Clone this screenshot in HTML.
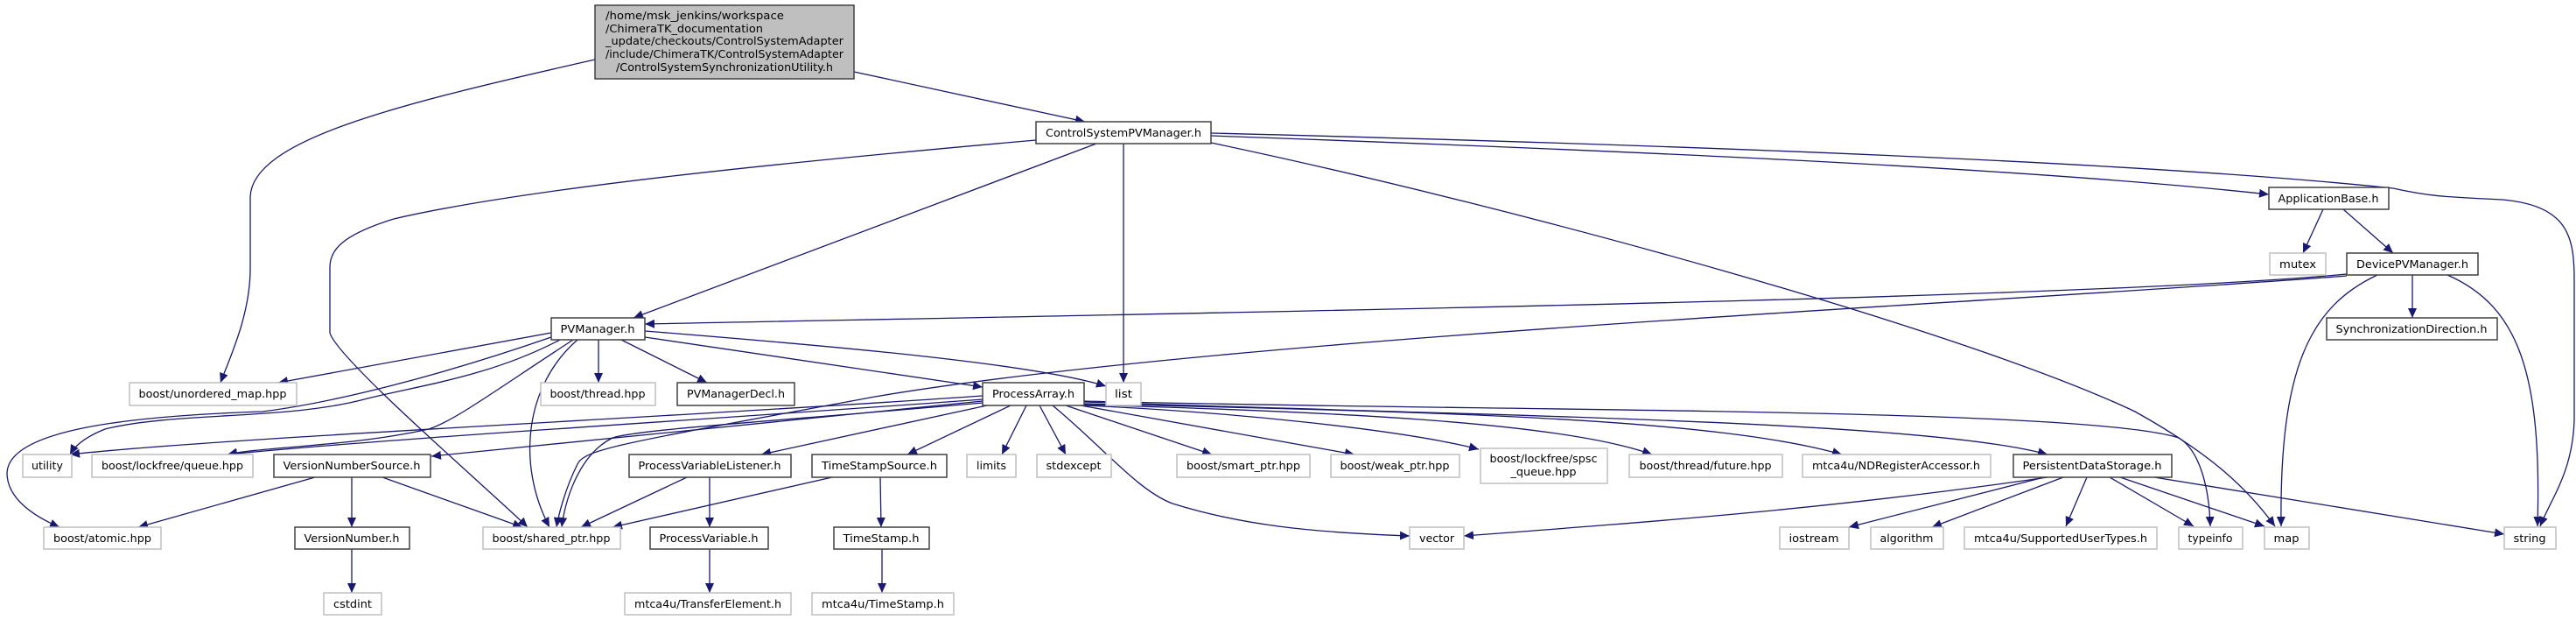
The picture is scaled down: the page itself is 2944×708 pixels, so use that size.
<!DOCTYPE html>
<html><head><meta charset="utf-8"><style>
html,body{margin:0;padding:0;background:#fff;}
svg{display:block;}
text{font-family:"DejaVu Sans","Liberation Sans",sans-serif;font-size:12px;fill:#000;}
.e{fill:none;stroke:#191970;stroke-width:1.3;}
.g{fill:#fff;stroke:#bfbfbf;stroke-width:1.5;}
.b{fill:#fff;stroke:#404040;stroke-width:1.5;}
</style></head><body>
<svg width="2944" height="708" viewBox="0 0 2944 708" xmlns="http://www.w3.org/2000/svg">
<defs>
<marker id="a" markerUnits="userSpaceOnUse" markerWidth="12" markerHeight="10" refX="11" refY="5" orient="auto">
<path d="M0,0 L11,5 L0,10 z" fill="#191970"/></marker>
</defs>
<g marker-end="url(#a)">
<path class="e" d="M680,68 C450,120 288,160 286,225 L286,307 C286,360 262,410 252,437"/>
<path class="e" d="M976,82 L1240,139"/>
<path class="e" d="M1253,164 L724,363"/>
<path class="e" d="M1284,164 L1284,437"/>
<path class="e" d="M1184,160 C900,185 600,215 450,250 C392,268 377,285 377,305 L377,380 C385,410 560,560 603,602"/>
<path class="e" d="M1384,155 C1800,170 2300,190 2593,222"/>
<path class="e" d="M1384,152 C1900,165 2450,185 2735,215 C2780,225 2800,225 2860,228 C2935,235 2942,270 2942,320 L2942,480 C2940,540 2915,570 2903,601"/>
<path class="e" d="M1384,163 C1750,240 2250,380 2440,470 C2530,520 2570,560 2600,601"/>
<path class="e" d="M2655,239 L2632,289"/>
<path class="e" d="M2678,239 L2735,289"/>
<path class="e" d="M2682,313 C2400,340 1500,355 737,370"/>
<path class="e" d="M2682,315 C2300,345 1400,385 1000,453 C720,505 668,512 660,530 C645,560 638,590 636,602"/>
<path class="e" d="M2717,314 C2640,350 2605,420 2607,601"/>
<path class="e" d="M2757,314 L2757,363"/>
<path class="e" d="M2797,314 C2880,350 2905,430 2900,601"/>
<path class="e" d="M630,380 L318,437"/>
<path class="e" d="M684,388 L684,437"/>
<path class="e" d="M710,388 L808,437"/>
<path class="e" d="M737,378 C950,395 1180,415 1264,441"/>
<path class="e" d="M737,385 L1123,442"/>
<path class="e" d="M660,388 C600,440 590,530 628,602"/>
<path class="e" d="M630,385 C500,430 380,460 300,470 C150,475 10,490 8,540 C8,570 40,590 68,602"/>
<path class="e" d="M640,388 C560,430 480,440 420,455 C330,480 200,470 120,490 C95,500 85,510 80,519"/>
<path class="e" d="M655,388 C560,450 520,480 490,490 C400,510 300,510 260,519"/>
<path class="e" d="M1123,452 C800,475 250,500 80,519"/>
<path class="e" d="M1123,456 C800,480 450,500 260,519"/>
<path class="e" d="M1123,458 L493,521"/>
<path class="e" d="M1123,460 C900,480 730,490 700,500 C660,520 645,575 642,602"/>
<path class="e" d="M1128,463 L870,519"/>
<path class="e" d="M1155,463 L1037,519"/>
<path class="e" d="M1173,463 L1145,519"/>
<path class="e" d="M1188,463 L1218,519"/>
<path class="e" d="M1203,463 C1260,510 1300,560 1340,575 C1420,600 1500,608 1611,612"/>
<path class="e" d="M1218,463 L1385,519"/>
<path class="e" d="M1235,463 L1548,519"/>
<path class="e" d="M1239,463 C1400,470 1600,490 1690,513"/>
<path class="e" d="M1239,462 C1500,470 1780,480 1888,519"/>
<path class="e" d="M1239,461 C1600,470 1950,475 2105,519"/>
<path class="e" d="M1239,459 C1700,475 2200,480 2340,519"/>
<path class="e" d="M1239,458 C1700,470 2380,465 2490,500 C2515,515 2525,560 2526,601"/>
<path class="e" d="M360,545 L158,602"/>
<path class="e" d="M402,545 L402,602"/>
<path class="e" d="M437,545 L597,602"/>
<path class="e" d="M402,627 L402,677"/>
<path class="e" d="M785,545 L664,602"/>
<path class="e" d="M811,545 L811,602"/>
<path class="e" d="M811,627 L811,677"/>
<path class="e" d="M951,545 L700,602"/>
<path class="e" d="M1006,545 L1007,602"/>
<path class="e" d="M1008,627 L1008,677"/>
<path class="e" d="M2340,545 C2100,580 1900,595 1673,612"/>
<path class="e" d="M2336,545 L2113,602"/>
<path class="e" d="M2358,545 L2208,602"/>
<path class="e" d="M2385,545 L2361,601"/>
<path class="e" d="M2411,545 L2507,601"/>
<path class="e" d="M2423,545 L2588,601"/>
<path class="e" d="M2462,545 L2862,610"/>
</g>
<rect x="680" y="6" width="296" height="84" fill="#bfbfbf" stroke="#404040" stroke-width="1.5"/>
<text x="692" y="22" textLength="204" lengthAdjust="spacingAndGlyphs">/home/msk_jenkins/workspace</text>
<text x="692" y="37" textLength="180" lengthAdjust="spacingAndGlyphs">/ChimeraTK_documentation</text>
<text x="692" y="51" textLength="272" lengthAdjust="spacingAndGlyphs">_update/checkouts/ControlSystemAdapter</text>
<text x="692" y="66" textLength="272" lengthAdjust="spacingAndGlyphs">/include/ChimeraTK/ControlSystemAdapter</text>
<text x="828" y="81" text-anchor="middle" textLength="248" lengthAdjust="spacingAndGlyphs">/ControlSystemSynchronizationUtility.h</text>
<g text-anchor="middle">
<rect class="b" x="1184" y="139" width="200" height="25"/><text x="1284" y="156" textLength="178" lengthAdjust="spacingAndGlyphs">ControlSystemPVManager.h</text>
<rect class="b" x="2593" y="214" width="137" height="25"/><text x="2661" y="231" textLength="115" lengthAdjust="spacingAndGlyphs">ApplicationBase.h</text>
<rect class="g" x="2594" y="289" width="64" height="25"/><text x="2626" y="306" textLength="42" lengthAdjust="spacingAndGlyphs">mutex</text>
<rect class="b" x="2682" y="289" width="150" height="25"/><text x="2757" y="306" textLength="128" lengthAdjust="spacingAndGlyphs">DevicePVManager.h</text>
<rect class="b" x="2659" y="363" width="195" height="25"/><text x="2756" y="380" textLength="173" lengthAdjust="spacingAndGlyphs">SynchronizationDirection.h</text>
<rect class="b" x="630" y="363" width="107" height="25"/><text x="683" y="380" textLength="85" lengthAdjust="spacingAndGlyphs">PVManager.h</text>
<rect class="g" x="148" y="437" width="191" height="26"/><text x="243" y="454" textLength="169" lengthAdjust="spacingAndGlyphs">boost/unordered_map.hpp</text>
<rect class="g" x="618" y="437" width="131" height="26"/><text x="683" y="454" textLength="109" lengthAdjust="spacingAndGlyphs">boost/thread.hpp</text>
<rect class="b" x="774" y="437" width="134" height="26"/><text x="841" y="454" textLength="112" lengthAdjust="spacingAndGlyphs">PVManagerDecl.h</text>
<rect class="b" x="1123" y="437" width="116" height="26"/><text x="1181" y="454" textLength="94" lengthAdjust="spacingAndGlyphs">ProcessArray.h</text>
<rect class="g" x="1264" y="437" width="40" height="26"/><text x="1284" y="454" textLength="20" lengthAdjust="spacingAndGlyphs">list</text>
<rect class="g" x="26" y="519" width="56" height="26"/><text x="54" y="536" textLength="36" lengthAdjust="spacingAndGlyphs">utility</text>
<rect class="g" x="105" y="519" width="184" height="26"/><text x="197" y="536" textLength="162" lengthAdjust="spacingAndGlyphs">boost/lockfree/queue.hpp</text>
<rect class="b" x="313" y="519" width="179" height="26"/><text x="402" y="536" textLength="157" lengthAdjust="spacingAndGlyphs">VersionNumberSource.h</text>
<rect class="b" x="719" y="519" width="185" height="26"/><text x="811" y="536" textLength="163" lengthAdjust="spacingAndGlyphs">ProcessVariableListener.h</text>
<rect class="b" x="928" y="519" width="154" height="26"/><text x="1005" y="536" textLength="132" lengthAdjust="spacingAndGlyphs">TimeStampSource.h</text>
<rect class="g" x="1105" y="519" width="56" height="26"/><text x="1133" y="536" textLength="34" lengthAdjust="spacingAndGlyphs">limits</text>
<rect class="g" x="1185" y="519" width="85" height="26"/><text x="1227" y="536" textLength="63" lengthAdjust="spacingAndGlyphs">stdexcept</text>
<rect class="g" x="1345" y="519" width="152" height="26"/><text x="1421" y="536" textLength="130" lengthAdjust="spacingAndGlyphs">boost/smart_ptr.hpp</text>
<rect class="g" x="1521" y="519" width="147" height="26"/><text x="1594" y="536" textLength="125" lengthAdjust="spacingAndGlyphs">boost/weak_ptr.hpp</text>
<rect class="g" x="1692" y="512" width="145" height="40"/><text x="1764" y="528" textLength="123" lengthAdjust="spacingAndGlyphs">boost/lockfree/spsc</text><text x="1764" y="543" textLength="75" lengthAdjust="spacingAndGlyphs">_queue.hpp</text>
<rect class="g" x="1862" y="519" width="175" height="26"/><text x="1949" y="536" textLength="151" lengthAdjust="spacingAndGlyphs">boost/thread/future.hpp</text>
<rect class="g" x="2060" y="519" width="215" height="26"/><text x="2167" y="536" textLength="192" lengthAdjust="spacingAndGlyphs">mtca4u/NDRegisterAccessor.h</text>
<rect class="b" x="2301" y="519" width="181" height="26"/><text x="2391" y="536" textLength="159" lengthAdjust="spacingAndGlyphs">PersistentDataStorage.h</text>
<rect class="g" x="50" y="602" width="134" height="25"/><text x="117" y="619" textLength="112" lengthAdjust="spacingAndGlyphs">boost/atomic.hpp</text>
<rect class="b" x="337" y="602" width="131" height="25"/><text x="402" y="619" textLength="109" lengthAdjust="spacingAndGlyphs">VersionNumber.h</text>
<rect class="g" x="552" y="602" width="157" height="25"/><text x="630" y="619" textLength="135" lengthAdjust="spacingAndGlyphs">boost/shared_ptr.hpp</text>
<rect class="b" x="743" y="602" width="135" height="25"/><text x="810" y="619" textLength="113" lengthAdjust="spacingAndGlyphs">ProcessVariable.h</text>
<rect class="b" x="953" y="602" width="109" height="25"/><text x="1007" y="619" textLength="87" lengthAdjust="spacingAndGlyphs">TimeStamp.h</text>
<rect class="g" x="1611" y="602" width="62" height="25"/><text x="1642" y="619" textLength="40" lengthAdjust="spacingAndGlyphs">vector</text>
<rect class="g" x="2034" y="602" width="79" height="25"/><text x="2073" y="619" textLength="57" lengthAdjust="spacingAndGlyphs">iostream</text>
<rect class="g" x="2138" y="602" width="83" height="25"/><text x="2179" y="619" textLength="61" lengthAdjust="spacingAndGlyphs">algorithm</text>
<rect class="g" x="2245" y="602" width="220" height="25"/><text x="2355" y="619" textLength="198" lengthAdjust="spacingAndGlyphs">mtca4u/SupportedUserTypes.h</text>
<rect class="g" x="2490" y="602" width="73" height="25"/><text x="2526" y="619" textLength="51" lengthAdjust="spacingAndGlyphs">typeinfo</text>
<rect class="g" x="2588" y="602" width="51" height="25"/><text x="2613" y="619" textLength="29" lengthAdjust="spacingAndGlyphs">map</text>
<rect class="g" x="2862" y="602" width="59" height="25"/><text x="2891" y="619" textLength="37" lengthAdjust="spacingAndGlyphs">string</text>
<rect class="g" x="370" y="677" width="66" height="25"/><text x="403" y="694" textLength="44" lengthAdjust="spacingAndGlyphs">cstdint</text>
<rect class="g" x="714" y="677" width="190" height="25"/><text x="809" y="694" textLength="168" lengthAdjust="spacingAndGlyphs">mtca4u/TransferElement.h</text>
<rect class="g" x="928" y="677" width="162" height="25"/><text x="1009" y="694" textLength="140" lengthAdjust="spacingAndGlyphs">mtca4u/TimeStamp.h</text>
</g>
</svg>
</body></html>
